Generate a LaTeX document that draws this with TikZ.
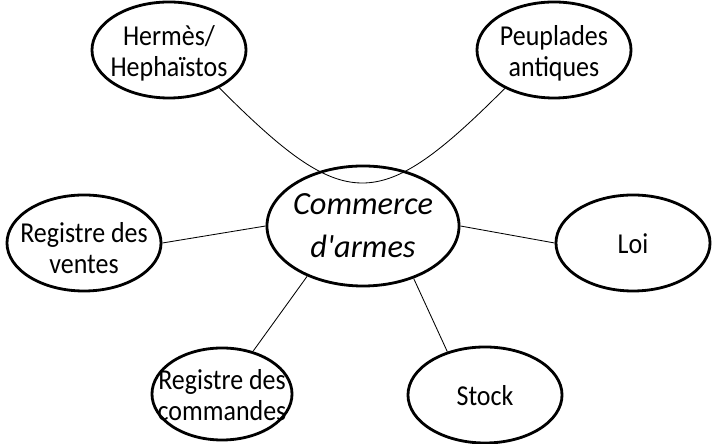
\documentclass[tikz,border=0pt]{standalone}
\usepackage{fontspec}
\setmainfont{Carlito}[FakeStretch=0.9]
\newfontfamily\hubfont{Carlito}
\usepackage{tikz}
\usetikzlibrary{shapes.geometric}

% text of a bubble, kept out of the ellipse size
\newcommand{\bubbletext}[2][0.42em]{\smash{\makebox[0pt]{\raisebox{-#1}{\begin{tabular}{@{}c@{}}#2\end{tabular}}}}}

\begin{document}
\begin{tikzpicture}[
  x=0.025cm, y=0.025cm,
  bubble/.style={draw, ellipse, line width=2pt, inner sep=0pt,
    minimum width=3.85cm, minimum height=2.4cm,
    font=\fontsize{20.5}{22}\selectfont},
  hub/.style={bubble, minimum width=4.8cm, minimum height=3cm,
    font=\hubfont\fontsize{23}{30.5}\selectfont\itshape},
  link/.style={line width=0.6pt}
]
\useasboundingbox (0,0) rectangle (716,444);

% Centre
\node[hub] (commerce) at (363,218) {\bubbletext[0.32em]{Commerce\\d\textquotesingle armes}};

% Around it
\node[bubble] (hermes) at (169,394) {\bubbletext{Hermès/\\Hephaïstos}};
\node[bubble] (peuples) at (554,394) {\bubbletext{Peuplades\\antiques}};
\node[bubble] (ventes) at (84,201) {\bubbletext[0.55em]{Registre des\\ventes}};
\node[bubble] (loi) at (633,201) {\bubbletext{Loi}};
\node[bubble, minimum width=3.5cm, minimum height=2.3cm] (commandes) at (222,50) {\bubbletext{Registre des\\commandes}};
\node[bubble] (stock) at (485,49) {\bubbletext{Stock}};

% Links
\draw[link] (hermes.-37) to[out=-45, in=-135, looseness=1.6] (peuples.-142);
\draw[link] (ventes.east) -- (commerce.west);
\draw[link] (commerce.east) -- (loi.west);
\draw[link] (commerce.-138) -- (commandes.54);
\draw[link] (commerce.-46) -- (stock.131);

\end{tikzpicture}
\end{document}
